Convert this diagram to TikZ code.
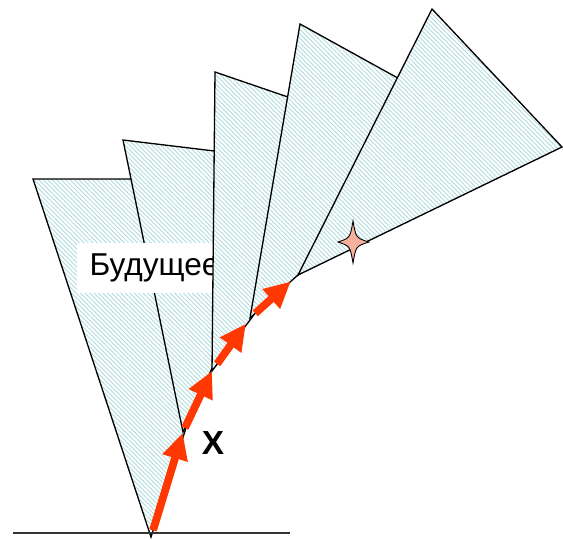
\documentclass[tikz,border=0pt]{standalone}
\usepackage{fontspec}
\setmainfont{Liberation Sans}
\usetikzlibrary{arrows.meta,patterns.meta}
\definecolor{LcHatch}{RGB}{175,220,222}
\definecolor{LcRed}{RGB}{255,55,0}
\definecolor{LcPink}{RGB}{246,176,156}
\tikzset{
  lc/cone/.style={
    draw=black,
    line width=0.75pt,
    line join=miter,
    preaction={fill=white},
    pattern={Lines[angle=-45,distance=1.8pt,line width=0.5pt]},
    pattern color=LcHatch
  },
  lc/step/.style={-{Triangle[length=15pt,width=14pt]}, line width=4.4pt, draw=LcRed},
  lc/ground/.style={draw=black!80, line width=0.6pt},
  lc/star/.style={draw=black, line width=0.5pt, fill=LcPink},
  lc/label/.style={fill=white, inner xsep=7pt, minimum height=28pt, font=\fontsize{18}{21}\selectfont},
  lc/mark/.style={font=\bfseries\fontsize{19}{22}\selectfont, inner sep=0pt}
}

\begin{document}
\begin{tikzpicture}[x=0.02cm,y=-0.02cm]
  \useasboundingbox (0,0) rectangle (563,539);
  % apexes of the cones
  \coordinate (p1) at (151,537);
  \coordinate (p2) at (183,432);
  \coordinate (p3) at (212,371);
  \coordinate (p4) at (250,318);
  \coordinate (p5) at (298,275);

  \path[lc/cone] (p1) -- (33,179) -- (266,179) -- cycle;
  \path[lc/cone] (p2) -- (123,140) -- (306,162) -- cycle;
  \node[lc/label,anchor=west] (future) at (77,268) {Будущее};
  \path[lc/cone] (p3) -- (215,72) -- (390,132) -- cycle;
  \path[lc/cone] (p4) -- (300,24) -- (472,119) -- cycle;
  \path[lc/cone] (p5) -- (432,9) -- (562,147) -- cycle;

  \draw[lc/ground] (13,533) -- (290,533);

  \draw[lc/step,shorten <=4pt,shorten >=0.5pt] (p1) -- (p2);
  \draw[lc/step,shorten <=2.5pt] (p2) -- (p3);
  \draw[lc/step,shorten <=5pt,shorten >=4pt] (p3) -- (p4);
  \draw[lc/step,shorten <=4pt,shorten >=5.5pt] (p4) -- (p5);

  \path[lc/star] (353,221) .. controls (356,238) .. (369,242)
    .. controls (356,246) .. (353,263)
    .. controls (350,246) .. (338,242)
    .. controls (350,238) .. cycle;

  \node[lc/mark] (event) at (213,443) {X};
\end{tikzpicture}
\end{document}
